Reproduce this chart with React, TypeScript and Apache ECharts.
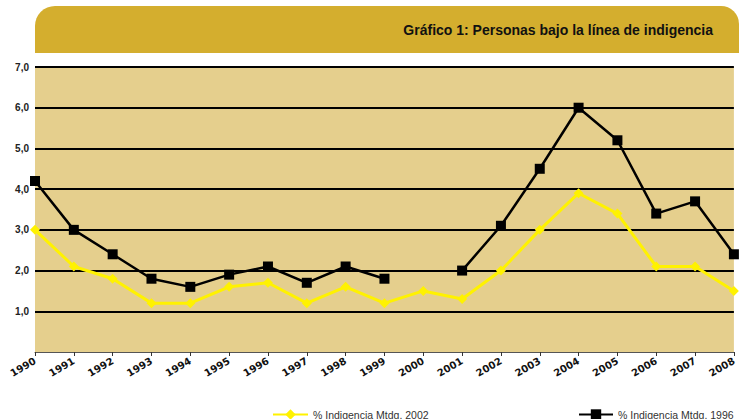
import React, { useEffect, useRef } from "react";
import * as echarts from "echarts";

const years = ["1990","1991","1992","1993","1994","1995","1996","1997","1998","1999","2000","2001","2002","2003","2004","2005","2006","2007","2008"];
const mtdg2002 = [3.0, 2.1, 1.8, 1.2, 1.2, 1.6, 1.7, 1.2, 1.6, 1.2, 1.5, 1.3, 2.0, 3.0, 3.9, 3.4, 2.1, 2.1, 1.5];
const mtdg1996 = [4.2, 3.0, 2.4, 1.8, 1.6, 1.9, 2.1, 1.7, 2.1, 1.8, null, 2.0, 3.1, 4.5, 6.0, 5.2, 3.4, 3.7, 2.4];
const seriesNames = ["% Indigencia Mtdg. 2002", "% Indigencia Mtdg. 1996"];
const title = "Gráfico 1: Personas bajo la línea de indigencia";

export default function App() {
  const ref = useRef<HTMLDivElement>(null);
  useEffect(() => {
    if (!ref.current) return;
    const chart = echarts.init(ref.current, null, { renderer: "svg" });
    chart.setOption({
      animation: false,
      backgroundColor: "#ffffff",
      textStyle: { fontFamily: "Liberation Sans" },
      graphic: [
        {
          type: "rect",
          shape: { x: 35, y: 6, width: 704, height: 47, r: [20, 18, 0, 0] },
          style: { fill: "#D4AE2E" },
          z: 0,
        },
        {
          type: "text",
          x: 713,
          y: 30,
          style: {
            text: title,
            align: "right",
            verticalAlign: "middle",
            fontSize: 14,
            fontWeight: "bold",
            fontFamily: "Liberation Sans",
            fill: "#111",
          },
          z: 1,
        },
      ],
      legend: [
        {
          data: [seriesNames[0]],
          left: 267,
          top: 404,
          itemWidth: 35,
          itemHeight: 13,
          itemGap: 5,
          textStyle: { fontSize: 10.5, color: "#333", fontFamily: "Liberation Sans" },
        },
        {
          data: [seriesNames[1]],
          left: 573,
          top: 404,
          itemWidth: 34,
          itemHeight: 13,
          itemGap: 5,
          textStyle: { fontSize: 10.5, color: "#333", fontFamily: "Liberation Sans" },
        },
      ],
      grid: {
        left: 35,
        right: 0,
        top: 67,
        bottom: 67,
        show: true,
        backgroundColor: "#E5CF8D",
        borderWidth: 0,
      },
      xAxis: {
        type: "category",
        data: years,
        boundaryGap: false,
        axisLine: { lineStyle: { color: "#555", width: 1 } },
        axisTick: { length: 4, lineStyle: { color: "#333" } },
        axisLabel: {
          rotate: 30,
          margin: 8,
          fontSize: 10,
          fontWeight: "bold",
          color: "#111",
          fontFamily: "DejaVu Sans",
        },
        splitLine: { show: false },
      },
      yAxis: {
        type: "value",
        min: 0,
        max: 7,
        interval: 1,
        axisLine: { show: false },
        axisTick: { show: false },
        axisLabel: {
          margin: 6,
          fontSize: 10,
          fontWeight: "bold",
          color: "#222",
          formatter: (v: number) => (v === 0 ? "" : v.toFixed(1).replace(".", ",")),
        },
        splitLine: {
          show: true,
          lineStyle: {
            color: ["rgba(0,0,0,0)", "#000", "#000", "#000", "#000", "#000", "#000", "#000"],
            width: 2,
          },
        },
      },
      series: [
        {
          name: seriesNames[0],
          type: "line",
          data: mtdg2002,
          symbol: "diamond",
          symbolSize: 10,
          lineStyle: { color: "#FFF200", width: 3 },
          itemStyle: { color: "#FFF200" },
          z: 2,
        },
        {
          name: seriesNames[1],
          type: "line",
          data: mtdg1996,
          symbol: "rect",
          symbolSize: 10,
          connectNulls: false,
          lineStyle: { color: "#000", width: 2.5 },
          itemStyle: { color: "#000" },
          z: 3,
        },
      ],
    });
    return () => chart.dispose();
  }, []);
  return <div ref={ref} style={{ width: 739, height: 419, position: "absolute", left: 0, top: 0 }} />;
}
